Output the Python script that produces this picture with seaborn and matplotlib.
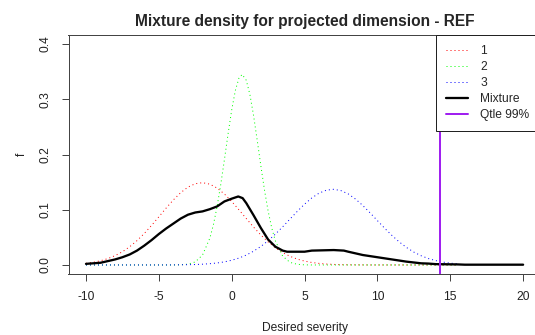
import numpy as np
import pandas as pd
import matplotlib
matplotlib.use("Agg")
import matplotlib.pyplot as plt
import seaborn as sns
from matplotlib.lines import Line2D

# ---- data ----
red_x = [-10, -9.5, -9, -8.5, -8, -7.5, -7, -6.5, -6, -5.5, -5, -4.5, -4, -3.5, -3, -2.5, -2, -1.5,
         -1, -0.5, 0, 0.5, 1, 1.5, 2, 2.5, 3, 3.5, 4, 4.5, 5, 5.5, 6, 6.5, 7, 7.5, 8, 8.5, 9,
         9.5, 10, 10.5, 11, 11.5, 12, 12.5, 13, 13.5, 14, 14.5, 15, 15.5]
red_y = [0.0030, 0.0049, 0.0076, 0.0115, 0.0169, 0.0239, 0.0330, 0.0440, 0.0570, 0.0716, 0.0872,
         0.1030, 0.1179, 0.1309, 0.1410, 0.1471, 0.1490, 0.1463, 0.1392, 0.1285, 0.1150, 0.0998,
         0.0841, 0.0686, 0.0543, 0.0417, 0.0310, 0.0224, 0.0157, 0.0106, 0.0070, 0.0045, 0.0028,
         0.0017, 0.0010, 0.0005, 0.0003, 0.0002, 0.0001,
         0, 0, 0, 0, 0, 0, 0, 0, 0, 0, 0, 0, 0]

green_x = [-10, -4, -3.5, -3, -2.5, -2, -1.5, -1.25, -1, -0.75, -0.5, -0.25, 0, 0.25, 0.5, 0.72,
           1, 1.25, 1.5, 1.75, 2, 2.25, 2.5, 2.75, 3, 3.5, 4, 4.5, 5, 5.5, 15.5]
green_y = [0, 0, 0.0003, 0.0014, 0.0055, 0.0181, 0.0484, 0.0734, 0.1061, 0.1458, 0.1906, 0.2371,
           0.2806, 0.3159, 0.3384, 0.3450, 0.3344, 0.3085, 0.2707, 0.2260, 0.1796, 0.1357, 0.0976,
           0.0668, 0.0435, 0.0159, 0.0047, 0.0012, 0.0002, 0, 0]

blue_x = [-10, -5, -4, -3, -2.5, -2, -1.5, -1, -0.5, 0, 0.5, 1, 1.5, 2, 2.5, 3, 3.5, 4, 4.5, 5,
          5.5, 6, 6.5, 7, 7.5, 8, 8.5, 9, 9.5, 10, 10.5, 11, 11.5, 12, 12.5, 13, 13.5, 14, 14.5,
          15, 15.5]
blue_y = [0, 0, 0.0001, 0.0005, 0.0008, 0.0014, 0.0023, 0.0036, 0.0056, 0.0085, 0.0125, 0.0179,
          0.0249, 0.0335, 0.0439, 0.0559, 0.0691, 0.0831, 0.0970, 0.1101, 0.1214, 0.1301, 0.1354,
          0.1370, 0.1346, 0.1286, 0.1193, 0.1076, 0.0943, 0.0803, 0.0664, 0.0534, 0.0417, 0.0316,
          0.0233, 0.0167, 0.0116, 0.0079, 0.0052, 0.0033, 0.0021]

mix_x = [-10, -9.5, -9, -8.5, -8, -7.5, -7, -6.5, -6, -5.5, -5, -4.5, -4, -3.5, -3, -2.5, -2, -1.5,
         -1, -0.5, 0, 0.45, 0.75, 1, 1.5, 2, 2.5, 3, 3.5, 3.8, 4, 5, 5.5, 7, 7.7, 8, 8.5, 9, 9.5,
         10, 10.5, 11, 11.5, 12, 12.5, 13, 13.5, 14, 15.5, 16, 20]
mix_y = [0.002, 0.003, 0.004, 0.007, 0.010, 0.014, 0.019, 0.026, 0.035, 0.045, 0.056, 0.066, 0.075,
         0.084, 0.091, 0.095, 0.097, 0.101, 0.106, 0.115, 0.120, 0.124, 0.121, 0.112, 0.090, 0.067,
         0.046, 0.033, 0.026, 0.024, 0.024, 0.024, 0.026, 0.027, 0.026, 0.024, 0.021, 0.018, 0.016,
         0.014, 0.012, 0.010, 0.008, 0.006, 0.0045, 0.003, 0.0025, 0.0015, 0.001, 0.0005, 0.0005]

qtle_99 = 14.3

legend_labels = ["1", "2", "3", "Mixture", "Qtle 99%"]
x_ticks = [-10, -5, 0, 5, 10, 15, 20]
y_ticks = [0.0, 0.1, 0.2, 0.3, 0.4]
y_tick_labels = ["0.0", "0.1", "0.2", "0.3", "0.4"]

# ---- styling ----
sns.set_style("white")
plt.rcParams["font.family"] = ["Liberation Sans", "DejaVu Sans"]

DPI = 72
fig = plt.figure(figsize=(535 / DPI, 335 / DPI), dpi=DPI)
W, H = 535.0, 335.0
left, right, top, bottom = 68.5, 540.6, 35.2, 273.8
ax = fig.add_axes([left / W, 1 - bottom / H, (right - left) / W, (bottom - top) / H])

dot = (0, (1, 3))
sns.lineplot(x=red_x, y=red_y, ax=ax, color="#FF0000", linestyle=dot, linewidth=1,
             sort=False, estimator=None)
sns.lineplot(x=green_x, y=green_y, ax=ax, color="#00FF00", linestyle=dot, linewidth=1,
             sort=False, estimator=None)
sns.lineplot(x=blue_x, y=blue_y, ax=ax, color="#0000FF", linestyle=dot, linewidth=1,
             sort=False, estimator=None)
sns.lineplot(x=mix_x, y=mix_y, ax=ax, color="black", linewidth=2.3,
             sort=False, estimator=None)
ax.axvline(qtle_99, color="#A020F0", linewidth=2)

ax.set_xlim(-11.2, 21.2)
ax.set_ylim(-0.016, 0.416)
ax.set_xticks(x_ticks)
ax.set_xticklabels([str(t) for t in x_ticks], fontsize=12, color="#222222")
ax.set_yticks(y_ticks)
ax.set_yticklabels(y_tick_labels, fontsize=12, rotation=90, va="center", color="#222222")
ax.tick_params(axis="both", direction="out", length=7, width=1, color="#444444",
               bottom=True, left=True)
ax.tick_params(axis="x", pad=10)
ax.tick_params(axis="y", pad=10)
for s in ax.spines.values():
    s.set_color("#444444")
    s.set_linewidth(1)

ax.set_xlabel("Desired severity", fontsize=12, labelpad=19, color="#222222")
ax.set_ylabel("f", fontsize=12, labelpad=12, color="#222222")
ax.set_title("Mixture density for projected dimension - REF", fontsize=15.5,
             fontweight="bold", pad=9)

handles = [
    Line2D([], [], color="#FF0000", linestyle=dot, linewidth=1),
    Line2D([], [], color="#00FF00", linestyle=dot, linewidth=1),
    Line2D([], [], color="#0000FF", linestyle=dot, linewidth=1),
    Line2D([], [], color="black", linewidth=2.3),
    Line2D([], [], color="#A020F0", linewidth=2),
]
leg = ax.legend(handles, legend_labels, loc="upper left",
                bbox_to_anchor=(436 / W, 1 - 35.2 / H), bbox_transform=fig.transFigure,
                frameon=True, fancybox=False, fontsize=12, borderpad=0.85,
                handlelength=1.85, handletextpad=1.0, labelspacing=0.32,
                borderaxespad=0)
leg.get_frame().set_edgecolor("#222222")
leg.get_frame().set_linewidth(1)
leg.get_frame().set_alpha(1)

fig.savefig("out.png", dpi=DPI)
